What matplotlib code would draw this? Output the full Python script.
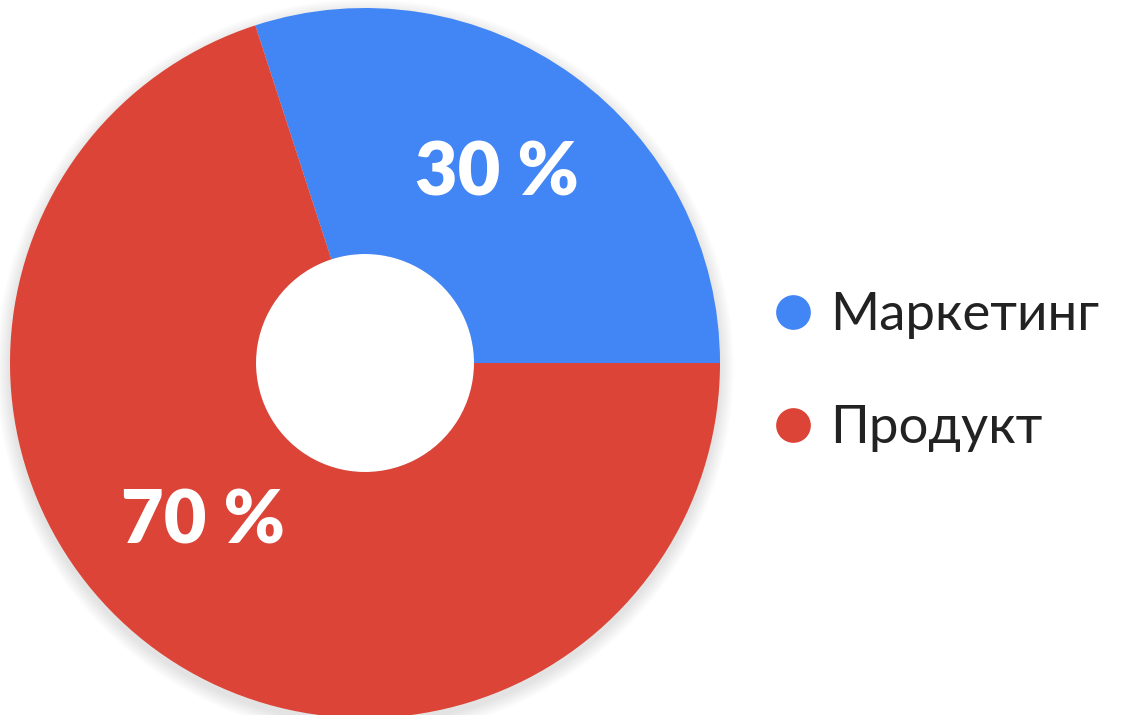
import matplotlib

matplotlib.use("Agg")
import matplotlib.pyplot as plt
from matplotlib.lines import Line2D
from matplotlib.patches import Circle

# ---------------------------------------------------------------- data
labels = ["Маркетинг", "Продукт"]
shares = [30, 70]
colors = ["#4285F4", "#DB4437"]
pct_text = ["30 %", "70 %"]

# ---------------------------------------------------------------- layout (pixel space)
W, H = 1125, 715
cx, cy = 365, H - 363
r_out, r_in = 355, 109
pct_pos = [(497, H - 175), (203, H - 523)]

plt.rcParams["font.family"] = ["Lato", "DejaVu Sans"]

fig = plt.figure(figsize=(W / 100, H / 100), dpi=100)
ax = fig.add_axes([0, 0, 1, 1])

# soft drop shadow under the ring
for k in range(14, 0, -1):
    ax.add_patch(Circle((cx, cy - 5), r_out + k, color="black",
                        alpha=0.008, lw=0, zorder=0))

wedges, _ = ax.pie(shares, colors=colors, startangle=0, counterclock=True,
                   radius=r_out, center=(cx, cy),
                   wedgeprops=dict(width=r_out - r_in, linewidth=0))
for w in wedges:
    w.set_zorder(2)
ax.add_patch(Circle((cx, cy), r_in, color="white", lw=0, zorder=1.5))

for txt, (x, y) in zip(pct_text, pct_pos):
    ax.text(x, y, txt, color="white", fontsize=53, fontweight="heavy",
            ha="center", va="center", zorder=3)

handles = [Line2D([], [], marker="o", ls="", markersize=25, color=c, markeredgewidth=0)
           for c in colors]
ax.legend(handles, labels, loc="center left", bbox_to_anchor=(743 / W, (H - 372) / H),
          frameon=False, fontsize=38, labelcolor="#222222", handletextpad=0.25,
          labelspacing=1.25, handlelength=0.9, borderpad=0)

ax.set_xlim(0, W)
ax.set_ylim(0, H)
ax.set_aspect("equal")
ax.axis("off")
fig.savefig("out.png", dpi=100)
